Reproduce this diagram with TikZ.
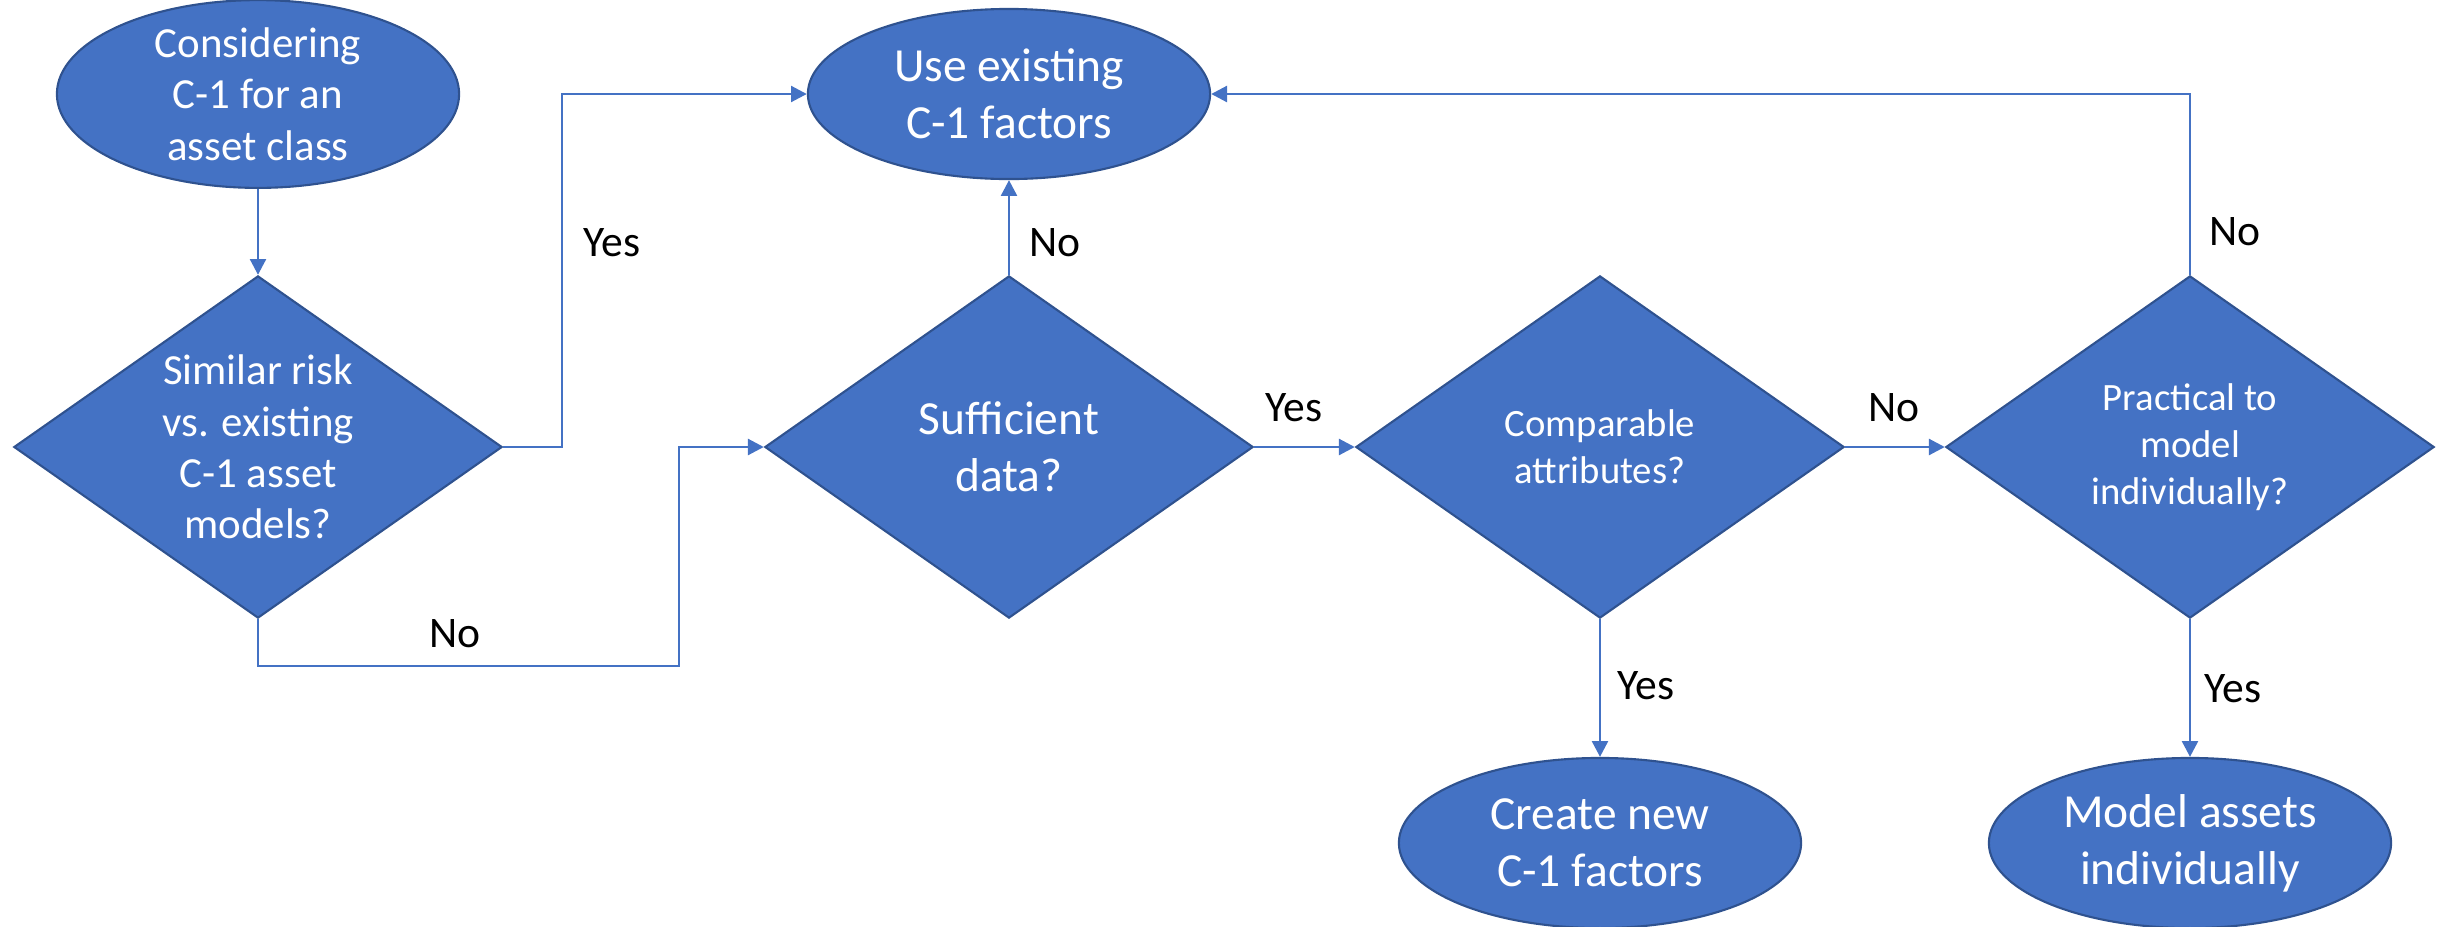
\documentclass[tikz,border=0pt]{standalone}
\usepackage{fontspec}
\setmainfont{Carlito}
\usetikzlibrary{shapes.geometric,arrows.meta}
\definecolor{boxblue}{HTML}{4472C4}
\definecolor{boxedge}{HTML}{2F528F}
\tikzset{
	endpoint/.style={ellipse, draw=boxedge, line width=0.6pt, fill=boxblue, text=white, align=center, inner sep=0pt, minimum width=4.02cm, minimum height=1.7cm},
	question/.style={diamond, shape aspect=1.43, draw=boxedge, line width=0.6pt, fill=boxblue, text=white, align=center, inner sep=0pt, minimum width=4.88cm, minimum height=3.42cm},
	bigtext/.style={font=\fontsize{13.5}{16.3}\selectfont},
	midtext/.style={font=\fontsize{12.2}{14.6}\selectfont},
	smalltext/.style={font=\fontsize{11}{13.4}\selectfont},
	flow/.style={draw=boxblue, line width=0.8pt, -{Triangle[length=4.5pt,width=4.5pt]}},
	answer/.style={font=\fontsize{12.4}{14}\selectfont, text=black}
}
\begin{document}
\begin{tikzpicture}[x=0.01cm, y=-0.01cm]
				\useasboundingbox (0,0) rectangle (2447,927);
				
				\node[endpoint, midtext] (start) at (258,94) {Considering\\C-1 for an\\asset class};
				\node[endpoint, bigtext] (useold) at (1009,94) {Use existing\\C-1 factors};
				\node[endpoint, bigtext] (makenew) at (1600,843) {Create new\\C-1 factors};
				\node[endpoint, bigtext] (modelind) at (2190,843) {Model assets\\individually};
				
				\node[question, midtext] (similar) at (258,447) {Similar risk\\vs. existing\\C-1 asset\\models?};
				\node[question, bigtext] (enough) at (1009,447) {Sufficient\\data?};
				\node[question, smalltext] (compare) at (1600,447) {Comparable\\attributes?};
				\node[question, smalltext] (practical) at (2190,447) {Practical to\\model\\individually?};
				
				\coordinate (yesbend) at (562,447);
				\coordinate (nobend) at (679,666);
				
				\draw[flow] (start) -- (similar);
				\draw[flow] (similar.east) -- (yesbend) |- (useold.west);
				\draw[flow] (similar.south) |- (nobend) |- (enough.west);
				\draw[flow] (enough) -- (useold);
				\draw[flow] (enough) -- (compare);
				\draw[flow] (compare) -- (practical);
				\draw[flow] (practical.north) |- (useold.east);
				\draw[flow] (compare) -- (makenew);
				\draw[flow] (practical) -- (modelind);
				
				\node[answer] (yes1) at (612,243) {Yes};
				\node[answer] (no1) at (455,634) {No};
				\node[answer] (no2) at (1055,243) {No};
				\node[answer] (yes2) at (1294,408) {Yes};
				\node[answer] (no3) at (1894,408) {No};
				\node[answer] (no4) at (2235,232) {No};
				\node[answer] (yes3) at (1646,686) {Yes};
				\node[answer] (yes4) at (2233,689) {Yes};
\end{tikzpicture}
\end{document}
